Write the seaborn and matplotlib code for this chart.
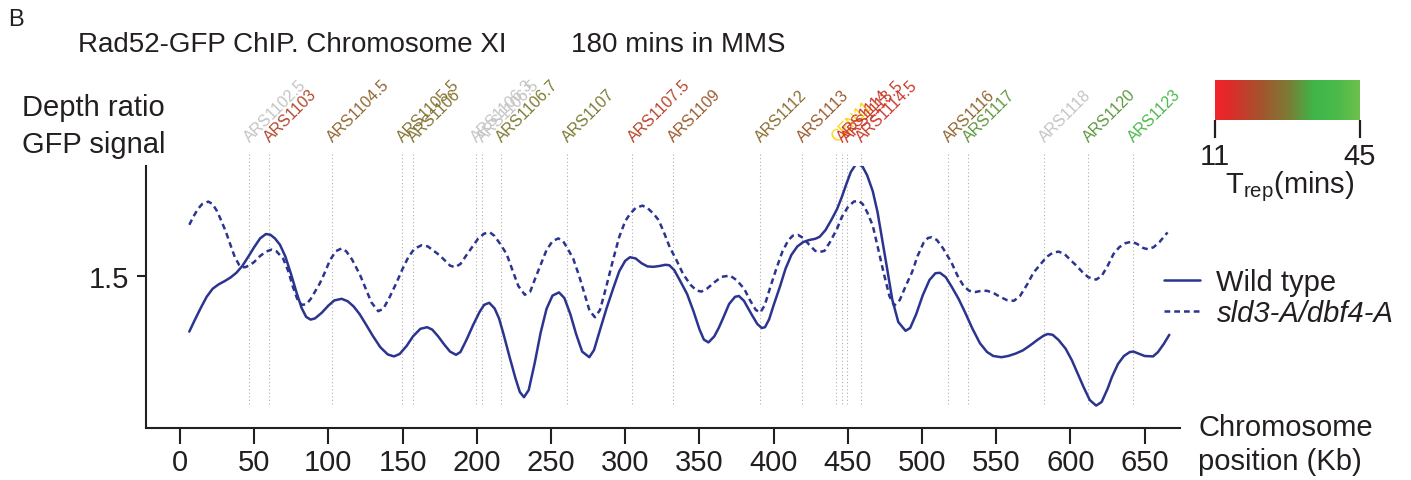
import numpy as np
import pandas as pd
import matplotlib
matplotlib.use("Agg")
import matplotlib.pyplot as plt
import matplotlib.transforms as mtransforms
from matplotlib.colors import LinearSegmentedColormap, Normalize
import seaborn as sns

# ---------------- data ----------------
wt_pos = [6.3, 10, 14, 18, 22, 26, 30, 34, 38, 42, 46, 50, 54, 57.9, 61, 64, 67.4, 71, 75, 78.6,
          82, 85, 88, 91, 95.5, 100, 104, 108.9, 113, 117, 121, 125, 130, 135, 140, 144.2, 148,
          152.7, 157, 162, 166.6, 170, 174, 178, 182, 186, 189, 193, 197.6, 202, 205, 208.4, 212,
          215, 218, 222, 226, 229, 231.8, 235, 239, 243, 247, 251, 255.4, 259, 263, 267, 271,
          275.8, 279, 283, 287.5, 292, 296, 300, 303.2, 307, 311, 315, 319, 323, 327, 329.7, 333,
          337, 341.7, 346, 350, 353, 356.1, 360, 363, 366, 370, 374, 376.6, 380, 385, 389, 392,
          394.2, 397, 400, 404.3, 408, 412, 416, 420, 424, 428, 431, 435, 439, 442.7, 446, 449,
          452, 455, 457.2, 460, 463, 466.8, 470, 473, 476.4, 480, 484, 488.9, 492, 496, 500.5,
          505, 509, 512.1, 516, 520, 524.6, 529, 534, 539, 543.8, 548, 553.5, 558, 563, 567.9,
          573, 578, 582, 584.7, 588, 592, 596.8, 601, 605, 609, 613, 617.3, 621, 625, 628, 632,
          636, 640, 642.5, 646, 650, 655.7, 659, 663, 666.6]
wt_val = [1.361, 1.390, 1.420, 1.448, 1.468, 1.479, 1.487, 1.496, 1.508, 1.525, 1.548, 1.572,
          1.594, 1.605, 1.603, 1.594, 1.578, 1.549, 1.503, 1.458, 1.420, 1.398, 1.391, 1.394,
          1.408, 1.426, 1.439, 1.443, 1.437, 1.424, 1.405, 1.381, 1.350, 1.322, 1.304, 1.299,
          1.305, 1.325, 1.349, 1.368, 1.372, 1.366, 1.349, 1.329, 1.311, 1.303, 1.310, 1.340,
          1.378, 1.411, 1.428, 1.433, 1.419, 1.394, 1.355, 1.299, 1.245, 1.210, 1.197, 1.215,
          1.282, 1.358, 1.418, 1.451, 1.459, 1.445, 1.405, 1.354, 1.311, 1.297, 1.315, 1.365,
          1.420, 1.470, 1.512, 1.538, 1.547, 1.544, 1.532, 1.524, 1.523, 1.525, 1.528, 1.527,
          1.515, 1.488, 1.455, 1.412, 1.367, 1.341, 1.334, 1.349, 1.370, 1.395, 1.430, 1.448,
          1.450, 1.438, 1.405, 1.380, 1.370, 1.372, 1.392, 1.427, 1.474, 1.518, 1.553, 1.574,
          1.585, 1.590, 1.593, 1.598, 1.615, 1.641, 1.667, 1.698, 1.730, 1.760, 1.777, 1.780,
          1.773, 1.752, 1.712, 1.660, 1.595, 1.520, 1.440, 1.385, 1.363, 1.370, 1.404, 1.452,
          1.490, 1.507, 1.508, 1.497, 1.473, 1.443, 1.409, 1.368, 1.332, 1.310, 1.300, 1.297,
          1.300, 1.306, 1.314, 1.327, 1.341, 1.351, 1.355, 1.353, 1.340, 1.318, 1.289, 1.255,
          1.221, 1.190, 1.176, 1.185, 1.218, 1.248, 1.280, 1.300, 1.310, 1.311, 1.306, 1.300,
          1.299, 1.310, 1.331, 1.353]

mut_pos = [6.3, 9, 12, 15, 19.1, 22, 25, 28, 31, 34, 37, 40, 41.6, 44, 47, 50, 54, 58, 61.8, 65,
           69.6, 73, 76, 79, 82, 85, 88, 91, 94.3, 98, 101, 105, 108.9, 112, 116, 121.3, 125, 129,
           133.6, 137, 141, 146, 150, 154, 158, 162.8, 167, 171, 175.2, 179, 182, 185.3, 189, 193,
           197.6, 201, 205, 208.9, 212, 216, 220.1, 224, 228, 232.4, 236, 240, 243.7, 247, 251,
           254.9, 258, 261, 265, 269, 273, 276, 279.6, 283, 287, 292, 296, 300, 303.2, 307, 311.6,
           315, 319, 322.5, 326, 330, 334.5, 339, 344, 348, 351.3, 355, 360, 365, 370.6, 375,
           380.2, 384, 388, 391.1, 394, 398, 401.8, 406, 410, 413, 416.3, 420, 424, 428, 431,
           434.3, 438, 442.7, 446, 450, 454, 457.2, 460, 463, 466.8, 470, 474, 478, 481.3, 485,
           489, 493.3, 497, 501, 504, 506.5, 510, 514, 519.8, 524, 528, 531.8, 536, 540, 543.8,
           548, 552, 557, 561.9, 566, 571, 575, 579.9, 584, 588, 592, 596, 600, 604, 608, 612,
           617.3, 621, 625, 629, 632.9, 637, 641.3, 645, 649, 652.2, 656, 660, 665.4]
mut_val = [1.628, 1.648, 1.667, 1.680, 1.686, 1.680, 1.662, 1.637, 1.610, 1.578, 1.547, 1.527,
           1.522, 1.522, 1.527, 1.535, 1.550, 1.561, 1.566, 1.562, 1.543, 1.512, 1.474, 1.443,
           1.428, 1.429, 1.442, 1.461, 1.482, 1.512, 1.539, 1.562, 1.569, 1.562, 1.541, 1.503,
           1.470, 1.434, 1.412, 1.418, 1.445, 1.484, 1.518, 1.548, 1.568, 1.577, 1.574, 1.563,
           1.551, 1.537, 1.526, 1.522, 1.530, 1.552, 1.576, 1.594, 1.606, 1.609, 1.600, 1.579,
           1.555, 1.515, 1.475, 1.453, 1.461, 1.500, 1.534, 1.565, 1.587, 1.594, 1.588, 1.570,
           1.543, 1.500, 1.450, 1.413, 1.397, 1.415, 1.470, 1.543, 1.598, 1.637, 1.655, 1.670,
           1.676, 1.670, 1.656, 1.640, 1.610, 1.572, 1.540, 1.505, 1.478, 1.464, 1.461, 1.468,
           1.484, 1.498, 1.501, 1.490, 1.468, 1.440, 1.415, 1.409, 1.427, 1.475, 1.518, 1.562,
           1.590, 1.601, 1.603, 1.595, 1.578, 1.563, 1.560, 1.563, 1.585, 1.618, 1.648, 1.672,
           1.686, 1.688, 1.680, 1.660, 1.626, 1.575, 1.510, 1.450, 1.426, 1.440, 1.475, 1.510,
           1.550, 1.583, 1.595, 1.597, 1.590, 1.570, 1.534, 1.500, 1.475, 1.463, 1.460, 1.463,
           1.463, 1.458, 1.449, 1.440, 1.438, 1.450, 1.480, 1.508, 1.530, 1.548, 1.558, 1.561,
           1.555, 1.540, 1.526, 1.510, 1.497, 1.491, 1.500, 1.525, 1.555, 1.572, 1.582, 1.586,
           1.580, 1.570, 1.567, 1.572, 1.585, 1.609]

ars_names = ["ARS1102.5", "ARS1103", "ARS1104.5", "ARS1105.5", "ARS1106", "ARS1106.3",
             "ARS1106.5", "ARS1106.7", "ARS1107", "ARS1107.5", "ARS1109", "ARS1112",
             "ARS1113", "CEN11", "ARS1114", "ARS1113.5", "ARS1114.5", "ARS1116", "ARS1117",
             "ARS1118", "ARS1120", "ARS1123"]
ars_pos = [46.5, 60.2, 102.2, 149.4, 156.8, 199.4, 203.2, 216.0, 260.5, 304.9, 331.9, 390.8,
           418.9, 442.0, 445.8, 449.2, 458.6, 517.6, 531.1, 582.1, 612.0, 642.3]
ars_trep = [np.nan, 20, 25, 27, 27, np.nan, np.nan, 28, 28, 19, 23, 26, 23, np.nan, 17, 17, 17,
            25, 31, np.nan, 31, 39]

trep_range = [11, 45]
yticks = [1.5]
xticks = list(range(0, 651, 50))

# ---------------- style ----------------
sns.set_theme(style="white")
plt.rcParams["font.family"] = ["Liberation Sans", "DejaVu Sans"]
plt.rcParams["mathtext.fontset"] = "custom"
plt.rcParams["mathtext.rm"] = "Liberation Sans"
plt.rcParams["mathtext.it"] = "Liberation Sans:italic"
TXT = "#231f20"
LINE = "#2b3590"
FS = 21

W, H = 1411, 481
fig = plt.figure(figsize=(W / 100, H / 100), dpi=100)
ax_l, ax_r, ax_b, ax_t = 146.4, 1179.7, 429.0, 166.7
ax = fig.add_axes([ax_l / W, 1 - ax_b / H, (ax_r - ax_l) / W, (ax_b - ax_t) / H])

df_wt = pd.DataFrame({"pos": wt_pos, "val": wt_val})
df_mut = pd.DataFrame({"pos": mut_pos, "val": mut_val})
sns.lineplot(data=df_wt, x="pos", y="val", ax=ax, color=LINE, lw=1.8, label="Wild type",
             sort=True, estimator=None)
sns.lineplot(data=df_mut, x="pos", y="val", ax=ax, color=LINE, lw=1.8, label="sld3-A/dbf4-A",
             sort=True, estimator=None)
for ln in ax.lines:
    ln.set_solid_joinstyle("round")
    ln.set_dash_joinstyle("round")
ax.lines[1].set_dashes((2.3, 1.6))

ax.set_xlim(-22.6, 673.6)
ax.set_ylim(1.12, 1.7758)

# colormap
cmap = LinearSegmentedColormap.from_list(
    "trep", [(0, "#f1262a"), (0.08, "#e3282a"), (0.3, "#a8502c"), (0.5, "#7e7a34"),
             (0.68, "#3fb54a"), (0.85, "#4cba4a"), (1, "#6dc04c")])
norm = Normalize(*trep_range)

# ARS markers
trans = mtransforms.blended_transform_factory(ax.transData, ax.transAxes)
px_per_kb = (ax_r - ax_l) / (673.6 + 22.6)
for name, pos, tr in zip(ars_names, ars_pos, ars_trep):
    if name.startswith("CEN"):
        col = "#ffd200"
    elif np.isnan(tr):
        col = "#c4c4c4"
    else:
        col = cmap(norm(tr))
    ax.axvline(pos, ymin=(ax_b - 405) / (ax_b - ax_t), ymax=(ax_b - 154) / (ax_b - ax_t),
               color="#b0b0b0", lw=0.8, ls=(0, (1, 2.2)), clip_on=False, zorder=0)
    ax.text(pos + 1 / px_per_kb, (ax_b - 143) / (ax_b - ax_t), name, transform=trans,
            rotation=45, rotation_mode="anchor", ha="left", va="baseline",
            fontsize=11.5, color=col, clip_on=False)

# axes styling
for s in ["top", "right"]:
    ax.spines[s].set_visible(False)
for s in ["left", "bottom"]:
    ax.spines[s].set_color(TXT)
    ax.spines[s].set_linewidth(1.5)
ax.set_xticks(xticks)
ax.set_xticklabels([str(v) for v in xticks])
ax.set_yticks(yticks)
ax.set_yticklabels(["1.5"])
ax.tick_params(axis="x", direction="out", length=11.5, width=1.5, color=TXT,
               labelsize=FS, labelcolor=TXT, pad=3, bottom=True)
ax.tick_params(axis="y", direction="out", length=6.5, width=1.5, color=TXT,
               labelsize=FS, labelcolor=TXT, pad=6, left=True)
ax.set_xlabel("")
ax.set_ylabel("")

leg = ax.legend(loc="center left", bbox_to_anchor=((1164 - ax_l) / (ax_r - ax_l), (ax_b - 298.5) / (ax_b - ax_t)),
                frameon=False, fontsize=FS, handlelength=1.25, handletextpad=0.55,
                labelspacing=0.1, borderpad=0, borderaxespad=0)
for t in leg.get_texts():
    t.set_color(TXT)
leg.get_texts()[1].set_style("italic")

# texts
fig.text(8 / W, 1 - 20 / H, "B", fontsize=17, color=TXT, ha="left", va="center")
fig.text(78 / W, 1 - 45 / H, "Rad52-GFP ChIP. Chromosome XI", fontsize=20, color=TXT,
         ha="left", va="center")
fig.text(571 / W, 1 - 45 / H, "180 mins in MMS", fontsize=20, color=TXT, ha="left", va="center")
fig.text(22 / W, 1 - 108 / H, "Depth ratio", fontsize=FS, color=TXT, ha="left", va="center")
fig.text(22 / W, 1 - 145 / H, "GFP signal", fontsize=FS, color=TXT, ha="left", va="center")
fig.text(1198 / W, 1 - 428 / H, "Chromosome", fontsize=FS, color=TXT, ha="left", va="center")
fig.text(1198 / W, 1 - 462 / H, "position (Kb)", fontsize=FS, color=TXT, ha="left", va="center")

# colorbar
cax = fig.add_axes([1215 / W, 1 - 121 / H, 145 / W, 40 / H])
grad = np.linspace(trep_range[0], trep_range[1], 256).reshape(1, -1)
cax.imshow(grad, aspect="auto", cmap=cmap, norm=norm,
           extent=[trep_range[0], trep_range[1], 0, 1])
cax.set_xlim(trep_range)
cax.set_yticks([])
cax.set_xticks(trep_range)
cax.set_xticklabels([str(v) for v in trep_range])
for s in cax.spines.values():
    s.set_visible(False)
cax.tick_params(axis="x", direction="out", length=13, width=1.6, color=TXT,
                labelsize=FS, labelcolor=TXT, pad=3, bottom=True)
fig.text(1290 / W, 1 - 187 / H, r"T$_{\mathrm{rep}}$(mins)", fontsize=FS, color=TXT,
         ha="center", va="center")

fig.savefig("out.png", dpi=100)
